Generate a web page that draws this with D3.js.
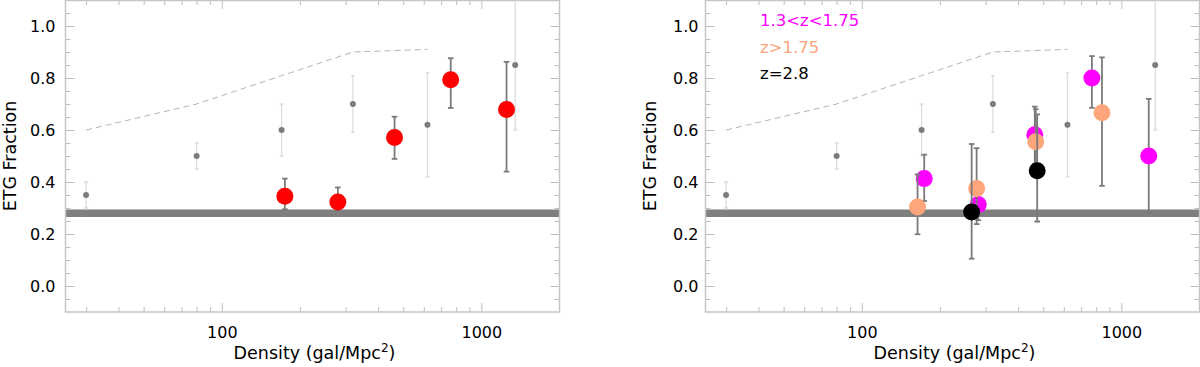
<!DOCTYPE html>
<html>
<head>
<meta charset="utf-8">
<script src="https://cdn.jsdelivr.net/npm/d3@7"></script>
<style>
  body { margin: 0; background: #fff; }
  svg { display: block; font-family: "DejaVu Sans", sans-serif; }
</style>
</head>
<body>
<div id="chart"></div>
<script>
// local comparison sample (grey points, shown in both panels)
const grayDens = [30, 80, 170, 320, 620, 1350];
const grayFrac = [0.35, 0.50, 0.60, 0.70, 0.62, 0.85];
const grayLo   = [0.30, 0.45, 0.50, 0.59, 0.42, 0.60];
const grayHi   = [0.40, 0.55, 0.70, 0.81, 0.82, 1.25];

// dashed reference relation
const dashDens = [30, 80, 320, 620];
const dashFrac = [0.60, 0.70, 0.90, 0.91];

// field level (thick band)
const fieldFrac = 0.28;

// left panel: all clusters
const redDens = [175, 280, 463, 762, 1250];
const redFrac = [0.345, 0.323, 0.571, 0.793, 0.679];
const redLo   = [0.295, 0.29, 0.489, 0.685, 0.44];
const redHi   = [0.413, 0.379, 0.651, 0.876, 0.862];

// right panel: redshift bins
const magDens = [174, 281, 464, 770, 1275];
const magFrac = [0.413, 0.313, 0.582, 0.80, 0.50];
const magLo   = [0.327, 0.253, 0.47, 0.685, 0.28];
const magHi   = [0.505, 0.37, 0.69, 0.884, 0.72];

const orDens = [164, 277, 468, 842];
const orFrac = [0.304, 0.375, 0.555, 0.666];
const orLo   = [0.199, 0.238, 0.45, 0.385];
const orHi   = [0.429, 0.530, 0.68, 0.879];

const blkDens = [265, 474];
const blkFrac = [0.285, 0.443];
const blkLo   = [0.105, 0.248];
const blkHi   = [0.546, 0.66];

const legendLabels = ["1.3<z<1.75", "z>1.75", "z=2.8"];
const legendColors = ["#ff00ff", "#fda67c", "#000000"];

const xTicks = [100, 1000];
const xMinor = [30, 40, 50, 60, 70, 80, 90, 200, 300, 400, 500, 600, 700, 800, 900];
const yTicks = [0, 0.2, 0.4, 0.6, 0.8, 1.0];
const yMinor = d3.range(-0.05, 1.1, 0.05).map(v => +v.toFixed(2)).filter(v => Math.abs(Math.round(v * 5) - v * 5) > 1e-6);

const toPts = (xs, ys, lo, hi) => xs.map((d, i) => ({x: d, y: ys[i], lo: lo ? lo[i] : null, hi: hi ? hi[i] : null}));

const svg = d3.select("#chart").append("svg")
    .attr("width", 1200)
    .attr("height", 367);

function drawPanel(opt) {
    let x = d3.scaleLog().domain([25, 2000]).range([opt.x0, opt.x1]);
    let y = d3.scaleLinear().domain([-0.1, 1.1]).range([312, 0]);
    let g = svg.append("g");

    g.append("defs").append("clipPath")
        .attr("id", "clip-" + opt.id)
        .append("rect")
        .attr("x", opt.x0).attr("y", 0)
        .attr("width", opt.x1 - opt.x0).attr("height", 312);

    let plot = g.append("g").attr("clip-path", "url(#clip-" + opt.id + ")");

    // field band
    plot.append("line")
        .attr("x1", opt.x0).attr("x2", opt.x1)
        .attr("y1", y(fieldFrac)).attr("y2", y(fieldFrac))
        .attr("stroke", "#7f7f7f").attr("stroke-width", 7.5);

    // dashed relation
    plot.append("path")
        .datum(toPts(dashDens, dashFrac))
        .attr("fill", "none")
        .attr("stroke", "#b4b4b4")
        .attr("stroke-width", 1)
        .attr("stroke-dasharray", "6,4")
        .attr("d", d3.line().x(d => x(d.x)).y(d => y(d.y)));

    // grey comparison points
    drawSeries(plot, x, y, toPts(grayDens, grayFrac, grayLo, grayHi),
        {fill: "#7c7c7c", r: 3, bar: "#dcdcdc", barW: 1.3, cap: 2});

    opt.series.forEach(s => {
        drawSeries(plot, x, y, toPts(s.dens, s.frac, s.lo, s.hi),
            {fill: s.color, r: 8.5, bar: "#7a7a7a", barW: 1.8, cap: 2.8});
    });

    // axes
    let axisG = g.append("g");
    let tickCol = "#bdbdbd";

    axisG.append("g").attr("transform", "translate(0,312)")
        .call(d3.axisBottom(x).tickValues(xTicks).tickSize(-9).tickPadding(15).tickFormat(d3.format("d")));
    axisG.append("g").attr("transform", "translate(0,312)")
        .call(d3.axisBottom(x).tickValues(xMinor).tickSize(-5).tickFormat(""));
    axisG.append("g").attr("transform", "translate(0,0)")
        .call(d3.axisTop(x).tickValues(xTicks).tickSize(-9).tickFormat(""));
    axisG.append("g").attr("transform", "translate(0,0)")
        .call(d3.axisTop(x).tickValues(xMinor).tickSize(-5).tickFormat(""));
    axisG.append("g").attr("transform", "translate(" + opt.x0 + ",0)")
        .call(d3.axisLeft(y).tickValues(yTicks).tickSize(-9).tickPadding(opt.labelGap).tickFormat(d3.format(".1f")));
    axisG.append("g").attr("transform", "translate(" + opt.x0 + ",0)")
        .call(d3.axisLeft(y).tickValues(yMinor).tickSize(-5).tickFormat(""));
    axisG.append("g").attr("transform", "translate(" + opt.x1 + ",0)")
        .call(d3.axisRight(y).tickValues(yTicks).tickSize(-9).tickFormat(""));
    axisG.append("g").attr("transform", "translate(" + opt.x1 + ",0)")
        .call(d3.axisRight(y).tickValues(yMinor).tickSize(-5).tickFormat(""));

    axisG.selectAll(".domain").remove();
    axisG.selectAll(".tick line").attr("stroke", tickCol).attr("stroke-width", 1);
    axisG.selectAll(".tick text")
        .attr("fill", "#000")
        .attr("font-family", "DejaVu Sans, sans-serif")
        .attr("font-size", 16);

    // frame
    g.append("rect")
        .attr("x", opt.x0).attr("y", 0.5)
        .attr("width", opt.x1 - opt.x0).attr("height", 311.5)
        .attr("fill", "none")
        .attr("stroke", "#c6c6c6")
        .attr("stroke-width", 1.5);

    // axis titles
    let xt = g.append("text")
        .attr("x", (opt.x0 + opt.x1) / 2 + 2)
        .attr("y", 359)
        .attr("text-anchor", "middle")
        .attr("font-size", 17.5)
        .attr("fill", "#000")
        .text("Density (gal/Mpc");
    xt.append("tspan").attr("font-size", 12).attr("dy", -7).text("2");
    xt.append("tspan").attr("dy", 7).text(")");

    g.append("text")
        .attr("transform", "translate(" + (opt.x0 - 50) + ",156) rotate(-90)")
        .attr("text-anchor", "middle")
        .attr("font-size", 17.5)
        .attr("fill", "#000")
        .text("ETG Fraction");

    if (opt.legend) {
        legendLabels.forEach((t, i) => {
            g.append("text")
                .attr("x", 760)
                .attr("y", 26 + i * 26.5)
                .attr("font-size", 16.5)
                .attr("fill", legendColors[i])
                .text(t);
        });
    }
}

function drawSeries(parent, x, y, pts, st) {
    let sg = parent.append("g");
    let eb = sg.selectAll(".eb").data(pts).enter().append("g")
        .attr("stroke", st.bar).attr("stroke-width", st.barW);
    eb.append("line")
        .attr("x1", d => x(d.x)).attr("x2", d => x(d.x))
        .attr("y1", d => y(d.lo)).attr("y2", d => y(d.hi));
    eb.append("line")
        .attr("x1", d => x(d.x) - st.cap).attr("x2", d => x(d.x) + st.cap)
        .attr("y1", d => y(d.hi)).attr("y2", d => y(d.hi));
    eb.append("line")
        .attr("x1", d => x(d.x) - st.cap).attr("x2", d => x(d.x) + st.cap)
        .attr("y1", d => y(d.lo)).attr("y2", d => y(d.lo));
    sg.selectAll("circle").data(pts).enter().append("circle")
        .attr("cx", d => x(d.x))
        .attr("cy", d => y(d.y))
        .attr("r", st.r)
        .attr("fill", st.fill);
}

drawPanel({
    id: "left", x0: 65.5, x1: 559.5, labelGap: 10,
    series: [{dens: redDens, frac: redFrac, lo: redLo, hi: redHi, color: "#ff0000"}]
});

drawPanel({
    id: "right", x0: 705.5, x1: 1199.5, labelGap: 7, legend: true,
    series: [
        {dens: magDens, frac: magFrac, lo: magLo, hi: magHi, color: "#ff00ff"},
        {dens: orDens, frac: orFrac, lo: orLo, hi: orHi, color: "#fda67c"},
        {dens: blkDens, frac: blkFrac, lo: blkLo, hi: blkHi, color: "#000000"}
    ]
});
</script>
</body>
</html>
